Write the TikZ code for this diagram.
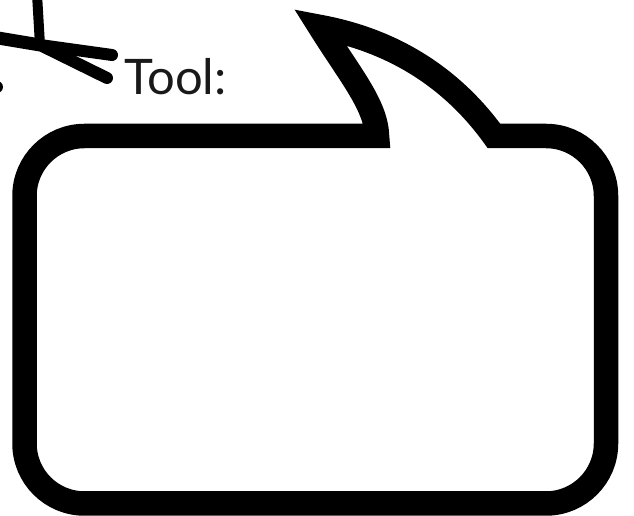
\documentclass[tikz,border=0pt]{standalone}
\usepackage{fontspec}
\newfontfamily\toolfont{Lato}
\tikzset{
  bubble/.style={draw=black, line width=24.5pt, line join=miter, miter limit=10, fill=white},
  stick/.style={draw=black, line width=11pt, line cap=round},
  label/.style={font=\toolfont\fontsize{49}{49}\selectfont, anchor=base west, inner sep=0pt, text=black!90}
}
\begin{document}
\begin{tikzpicture}[x=1pt,y=1pt]
\useasboundingbox (0,0) rectangle (634,516);
\begin{scope}
\clip (0,0) rectangle (634,516);
% stick figure fragment
\coordinate (j) at (40,471);
\coordinate (top) at (37,522);
\coordinate (left) at (-8,479);
\coordinate (b1) at (112,461);
\coordinate (b2) at (107,438);
\draw[stick, line width=10pt, line cap=butt] (top) -- (j);
\draw[stick, line width=13pt, line cap=butt] (left) -- (j);
\draw[stick, line width=12pt] (j) -- (b1);
\draw[stick, line width=12pt] (j) -- (b2);
\fill (-3,429) circle (6);
% speech bubble
\draw[bubble] (377,380) .. controls (376,411) and (350,441) .. (320,489)
  .. controls (390,476) and (450,441) .. (494,380)
  -- (546,380) arc[start angle=90, end angle=0, radius=60]
  -- (606,72.5) arc[start angle=0, end angle=-90, radius=60]
  -- (84.5,12.5) arc[start angle=270, end angle=180, radius=60]
  -- (24.5,320) arc[start angle=180, end angle=90, radius=60]
  -- cycle;
\end{scope}
\node[label] (tool) at (124,421) {Tool:};
\end{tikzpicture}
\end{document}
